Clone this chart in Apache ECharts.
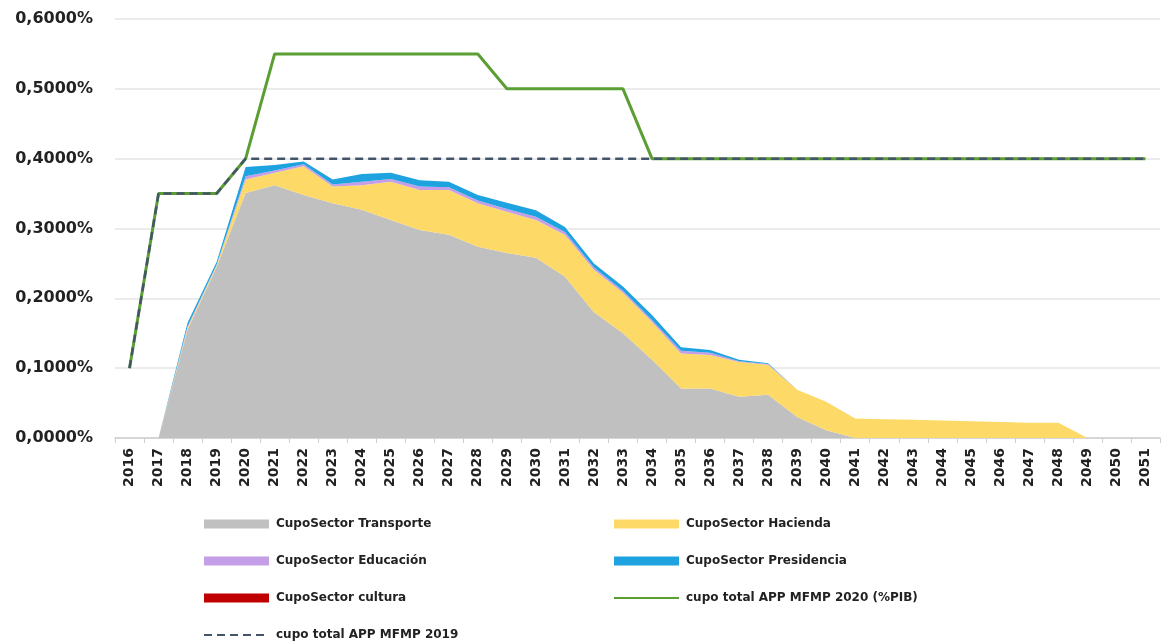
<!DOCTYPE html>
<html>
<head>
<meta charset="utf-8">
<script src="https://cdn.jsdelivr.net/npm/echarts@6/dist/echarts.min.js"></script>
<style>
  html, body { margin: 0; padding: 0; background: #fff; }
  #chart { width: 1169px; height: 641px; }
</style>
</head>
<body>
<div id="chart"></div>
<script>
// categorias (años)
const years = ['2016','2017','2018','2019','2020','2021','2022','2023','2024','2025',
  '2026','2027','2028','2029','2030','2031','2032','2033','2034','2035',
  '2036','2037','2038','2039','2040','2041','2042','2043','2044','2045',
  '2046','2047','2048','2049','2050','2051'];

// cupos por sector (% PIB)
const transporte = [0, 0, 0.155, 0.245, 0.351, 0.362, 0.348, 0.336, 0.327, 0.312,
  0.298, 0.291, 0.274, 0.265, 0.258, 0.231, 0.180, 0.150, 0.112, 0.071,
  0.071, 0.059, 0.062, 0.030, 0.011, 0, 0, 0, 0, 0,
  0, 0, 0, 0, 0, 0];
const hacienda = [0, 0, 0.003, 0.002, 0.019, 0.018, 0.041, 0.024, 0.035, 0.055,
  0.057, 0.064, 0.062, 0.059, 0.054, 0.060, 0.061, 0.058, 0.054, 0.050,
  0.048, 0.050, 0.043, 0.039, 0.041, 0.028, 0.027, 0.026, 0.025, 0.024,
  0.023, 0.022, 0.022, 0, 0, 0];
const educacion = [0, 0, 0.002, 0.001, 0.005, 0.003, 0.003, 0.003, 0.005, 0.004,
  0.005, 0.004, 0.004, 0.004, 0.005, 0.004, 0.003, 0.003, 0.003, 0.004,
  0.003, 0.001, 0.001, 0, 0, 0, 0, 0, 0, 0,
  0, 0, 0, 0, 0, 0];
const presidencia = [0, 0, 0.005, 0.004, 0.013, 0.008, 0.004, 0.007, 0.011, 0.009,
  0.009, 0.008, 0.008, 0.009, 0.009, 0.007, 0.006, 0.006, 0.007, 0.005,
  0.004, 0.002, 0.001, 0, 0, 0, 0, 0, 0, 0,
  0, 0, 0, 0, 0, 0];
const cultura = [0, 0, 0, 0, 0, 0, 0, 0, 0, 0,
  0, 0, 0, 0, 0, 0, 0, 0, 0, 0,
  0, 0, 0, 0, 0, 0, 0, 0, 0, 0,
  0, 0, 0, 0, 0, 0];

// cupos totales
const cupo2020 = [0.10, 0.35, 0.35, 0.35, 0.40, 0.55, 0.55, 0.55, 0.55, 0.55,
  0.55, 0.55, 0.55, 0.50, 0.50, 0.50, 0.50, 0.50, 0.40, 0.40,
  0.40, 0.40, 0.40, 0.40, 0.40, 0.40, 0.40, 0.40, 0.40, 0.40,
  0.40, 0.40, 0.40, 0.40, 0.40, 0.40];
const cupo2019 = [0.10, 0.35, 0.35, 0.35, 0.40, 0.40, 0.40, 0.40, 0.40, 0.40,
  0.40, 0.40, 0.40, 0.40, 0.40, 0.40, 0.40, 0.40, 0.40, 0.40,
  0.40, 0.40, 0.40, 0.40, 0.40, 0.40, 0.40, 0.40, 0.40, 0.40,
  0.40, 0.40, 0.40, 0.40, 0.40, 0.40];

const FONT = 'DejaVu Sans';

function areaSeries(name, data, color) {
  return {
    name: name,
    type: 'line',
    stack: 'total',
    data: data,
    color: color,
    symbol: 'none',
    lineStyle: { width: 0 },
    areaStyle: { color: color, opacity: 1 }
  };
}

const myChart = echarts.init(document.getElementById('chart'));
const legendCommon = {
  orient: 'vertical',
  top: 518,
  height: 125,
  padding: 0,
  itemGap: 25,
  itemWidth: 65,
  itemHeight: 9,
  textStyle: { fontFamily: FONT, fontWeight: 'bold', fontSize: 12, color: '#222', padding: [0, 0, 0, 2] }
};

const option = {
  animation: false,
  backgroundColor: '#fff',
  grid: { left: 115, right: 9, top: 19, bottom: 203, containLabel: false },
  legend: [
    Object.assign({}, legendCommon, {
      left: 203,
      data: [
        { name: 'CupoSector Transporte', icon: 'rect' },
        { name: 'CupoSector Educación', icon: 'rect' },
        { name: 'CupoSector cultura', icon: 'rect' },
        { name: 'cupo total APP MFMP 2019', itemStyle: { opacity: 0 } }
      ]
    }),
    Object.assign({}, legendCommon, {
      left: 613,
      data: [
        { name: 'CupoSector Hacienda', icon: 'rect' },
        { name: 'CupoSector Presidencia', icon: 'rect' },
        { name: 'cupo total APP MFMP 2020 (%PIB)', itemStyle: { opacity: 0 } }
      ]
    })
  ],
  xAxis: {
    type: 'category',
    data: years,
    boundaryGap: true,
    axisLine: { lineStyle: { color: '#d0d0d0', width: 1.5 } },
    axisTick: { show: true, length: 5, lineStyle: { color: '#d0d0d0' } },
    axisLabel: {
      interval: 0,
      rotate: 90,
      margin: 10,
      fontFamily: FONT,
      fontWeight: 'bold',
      fontSize: 14,
      color: '#222'
    }
  },
  yAxis: {
    type: 'value',
    min: 0,
    max: 0.6,
    interval: 0.1,
    axisLine: { show: false },
    axisTick: { show: false },
    splitLine: { lineStyle: { color: '#e4e4e4', width: 1.5 } },
    axisLabel: {
      margin: 22,
      fontFamily: FONT,
      fontWeight: 'bold',
      fontSize: 16,
      color: '#222',
      formatter: function (v) { return v.toFixed(4).replace('.', ',') + '%'; }
    }
  },
  series: [
    areaSeries('CupoSector Transporte', transporte, '#c0c0c0'),
    areaSeries('CupoSector Hacienda', hacienda, '#fdd967'),
    areaSeries('CupoSector Educación', educacion, '#c49ee6'),
    areaSeries('CupoSector Presidencia', presidencia, '#1ea3e0'),
    areaSeries('CupoSector cultura', cultura, '#c00000'),
    {
      name: 'cupo total APP MFMP 2020 (%PIB)',
      type: 'line',
      data: cupo2020,
      color: '#5a9e34',
      symbol: 'none',
      lineStyle: { width: 3, color: '#5a9e34' },
      z: 3
    },
    {
      name: 'cupo total APP MFMP 2019',
      type: 'line',
      data: cupo2019,
      color: '#44546a',
      symbol: 'none',
      lineStyle: { width: 2.5, type: [8, 5], color: '#44546a' },
      z: 4
    }
  ]
};
myChart.setOption(option);
</script>
</body>
</html>
